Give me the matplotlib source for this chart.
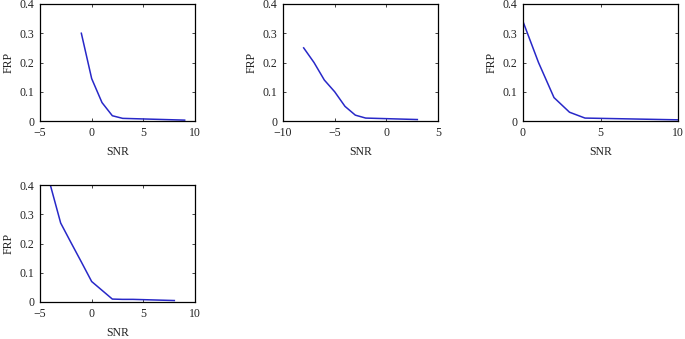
import matplotlib
matplotlib.use("Agg")
import matplotlib.pyplot as plt

plt.rcParams['font.family'] = ['Liberation Serif', 'DejaVu Serif']
plt.rcParams['font.size'] = 8.5

snr_a = [-1, 0, 1, 2, 3, 4, 5, 6, 7, 8, 9]
frp_a = [0.30, 0.145, 0.063, 0.018, 0.009, 0.008, 0.007, 0.006, 0.005, 0.004, 0.003]

snr_b = [-8, -7, -6, -5, -4, -3, -2, -1, 0, 1, 2, 3]
frp_b = [0.25, 0.20, 0.14, 0.10, 0.05, 0.02, 0.01, 0.009, 0.008, 0.007, 0.006, 0.005]

snr_c = [0, 1, 2, 3, 4, 5, 6, 7, 8, 9, 10]
frp_c = [0.34, 0.20, 0.08, 0.03, 0.01, 0.009, 0.008, 0.007, 0.006, 0.005, 0.004]

snr_d = [-4, -3, -2, -1, 0, 1, 2, 3, 4, 5, 6, 7, 8]
frp_d = [0.40, 0.27, 0.203, 0.137, 0.07, 0.04, 0.01, 0.009, 0.009, 0.008, 0.007, 0.006, 0.005]

panels = [
    (snr_a, frp_a, (-5, 10), [-5, 0, 5, 10]),
    (snr_b, frp_b, (-10, 5), [-10, -5, 0, 5]),
    (snr_c, frp_c, (0, 10), [0, 5, 10]),
    (snr_d, frp_d, (-5, 10), [-5, 0, 5, 10]),
]

W, H = 685, 339
fig = plt.figure(figsize=(W / 100, H / 100), dpi=100)

# axes boxes in pixels: left, top, right, bottom
boxes = [(40, 4, 195, 121), (283, 4, 438, 121), (523, 4, 678, 121), (40, 185, 195, 302)]

for (x, y, xlim, xt), (l, t, r, b) in zip(panels, boxes):
    ax = fig.add_axes([l / W, 1 - b / H, (r - l) / W, (b - t) / H])
    ax.plot(x, y, color='#2828c8', lw=1.1)
    ax.set_xlim(*xlim)
    ax.set_ylim(0, 0.4)
    ax.set_xticks(xt)
    ax.set_xticklabels([str(v).replace('-', '\u2212') for v in xt])
    ax.set_yticks([0, 0.1, 0.2, 0.3, 0.4])
    ax.set_yticklabels(['0', '0.1', '0.2', '0.3', '0.4'])
    ax.tick_params(direction='in', top=True, right=True, length=2.5, width=0.6,
                   colors='#222222')
    ax.tick_params(axis='x', pad=4)
    ax.tick_params(axis='y', pad=4)
    for s in ax.spines.values():
        s.set_linewidth(0.9)
    ax.set_xlabel('SNR', labelpad=5.5, color='#222222')
    ax.set_ylabel('FRP', labelpad=4, color='#222222')

fig.savefig('out.png', dpi=100)
